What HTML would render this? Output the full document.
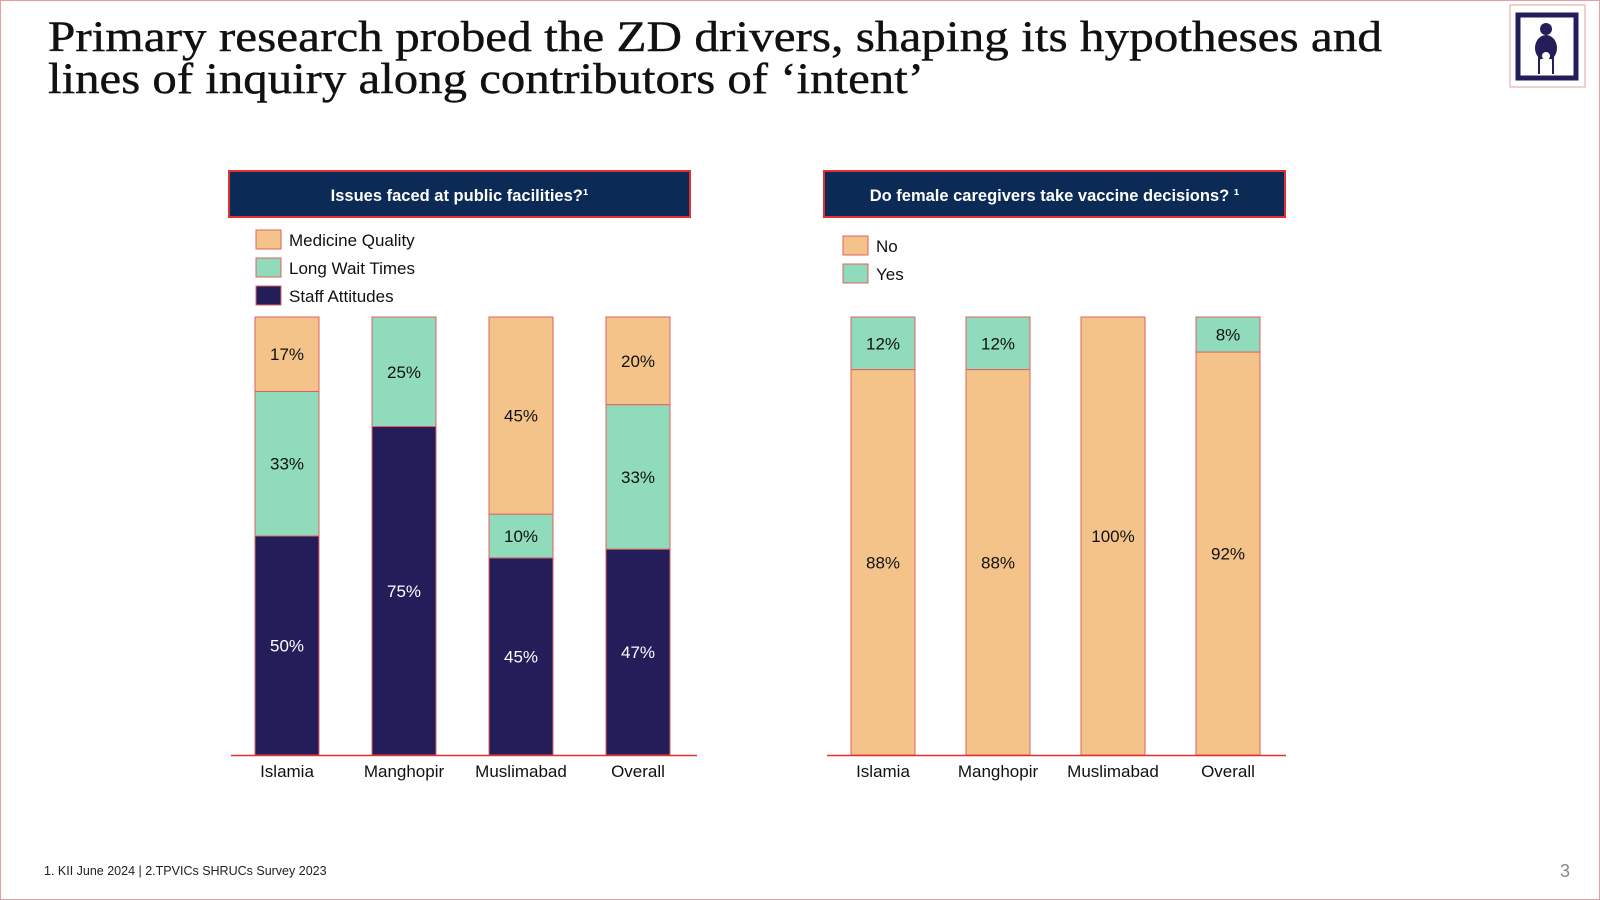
<!DOCTYPE html>
<html><head><meta charset="utf-8"><style>
html,body{margin:0;padding:0;background:#fff}
svg{display:block;font-family:"Liberation Sans",sans-serif}
</style></head><body>
<svg width="1600" height="900" viewBox="0 0 1600 900">
<rect x="0.5" y="0.5" width="1599" height="899" fill="#fff" stroke="#e3a0a0"/>
<text x="48" y="51" font-family="Liberation Serif, serif" font-size="43" fill="#111" stroke="#111" stroke-width="0.4" textLength="1334" lengthAdjust="spacingAndGlyphs">Primary research probed the ZD drivers, shaping its hypotheses and</text>
<text x="48" y="93" font-family="Liberation Serif, serif" font-size="43" fill="#111" stroke="#111" stroke-width="0.4" textLength="876" lengthAdjust="spacingAndGlyphs">lines of inquiry along contributors of ‘intent’</text>
<g>
<rect x="1510" y="5" width="75" height="82" fill="#fff" stroke="#e3a0a0"/>
<rect x="1518" y="15" width="58" height="63" fill="none" stroke="#231d5a" stroke-width="5"/>
<circle cx="1546" cy="29" r="6" fill="#231d5a"/>
<ellipse cx="1546" cy="48" rx="11" ry="13" fill="#231d5a"/>
<circle cx="1546" cy="56" r="4" fill="#fff"/>
<rect x="1541" y="59" width="10" height="16" fill="#fff"/>
<rect x="1538" y="56" width="2" height="18" fill="#231d5a"/>
<rect x="1552" y="56" width="2" height="18" fill="#231d5a"/>
</g>
<g id="c1"></g><g id="c2"></g>
<text x="44" y="875" font-size="12.5" fill="#222">1. KII June 2024 | 2.TPVICs SHRUCs Survey 2023</text>
<text x="1565" y="877" font-size="18" fill="#888" text-anchor="middle">3</text>
</svg>
<script>
const NS="http://www.w3.org/2000/svg";
const categories=["Islamia","Manghopir","Muslimabad","Overall"];
const staffAttitudes=[50,75,45,47];
const longWaitTimes=[33,25,10,33];
const medicineQuality=[17,0,45,20];
const noValues=[88,88,100,92];
const yesValues=[12,12,0,8];
const C={navy:"#231d5a",green:"#8fdbbb",orange:"#f3c38a"};
function el(p,t,a,txt){const e=document.createElementNS(NS,t);for(const k in a)e.setAttribute(k,a[k]);if(txt!==undefined)e.textContent=txt;p.appendChild(e);return e;}
function chart(g,o){
  const hdr=el(g,"rect",{x:o.hx,y:171,width:461,height:46,fill:"#0b2a55",stroke:"#e03030","stroke-width":2});
  
  
  const ht=el(g,"text",{x:o.hx+230.5,y:201,"text-anchor":"middle","font-size":16.5,"font-weight":"bold",fill:"#fff"},o.title);
  
  
  o.legend.forEach((L,i)=>{
    const sw=el(g,"rect",{x:o.lx,y:o.ly+i*28,width:25,height:19,fill:L.c,stroke:"#e06060","stroke-width":1});
    
    
    const lt=el(g,"text",{x:o.lx+33,y:o.ly+i*28+16,"font-size":17,fill:"#111"},L.n);
    
    
  });
  const top=317,base=755,y=v=>base-(v/100)*(base-top);
  categories.forEach((cat,i)=>{
    const x=o.xs[i];let cum=0;
    o.series.forEach(s=>{
      const v=s.d[i];if(v<=0)return;
      const r=el(g,"rect",{x:x,y:y(cum+v),width:64,height:y(cum)-y(cum+v),fill:s.c,stroke:"#e06060","stroke-width":1});
      
      
      const t=el(g,"text",{x:x+32,y:(y(cum)+y(cum+v))/2+6,"text-anchor":"middle","font-size":17,fill:s.c===C.navy?"#fff":"#111"},v+"%");
      
      
      cum+=v;
    });
    const cl=el(g,"text",{x:x+32,y:777,"text-anchor":"middle","font-size":17,fill:"#111"},cat);
    
    
  });
  const ax=el(g,"line",{x1:o.ax1,x2:o.ax2,y1:755.5,y2:755.5,stroke:"#e03030","stroke-width":1.5});
  
  
}
const g1=document.getElementById("c1");


chart(g1,{hx:229,title:"Issues faced at public facilities?¹",lx:256,ly:230,
 legend:[{n:"Medicine Quality",c:C.orange},{n:"Long Wait Times",c:C.green},{n:"Staff Attitudes",c:C.navy}],
 xs:[255,372,489,606],ax1:231,ax2:697,
 series:[{d:staffAttitudes,c:C.navy},{d:longWaitTimes,c:C.green},{d:medicineQuality,c:C.orange}]});
const g2=document.getElementById("c2");


chart(g2,{hx:824,title:"Do female caregivers take vaccine decisions? ¹",lx:843,ly:236,
 legend:[{n:"No",c:C.orange},{n:"Yes",c:C.green}],
 xs:[851,966,1081,1196],ax1:827,ax2:1286,
 series:[{d:noValues,c:C.orange},{d:yesValues,c:C.green}]});
</script>
</body></html>
